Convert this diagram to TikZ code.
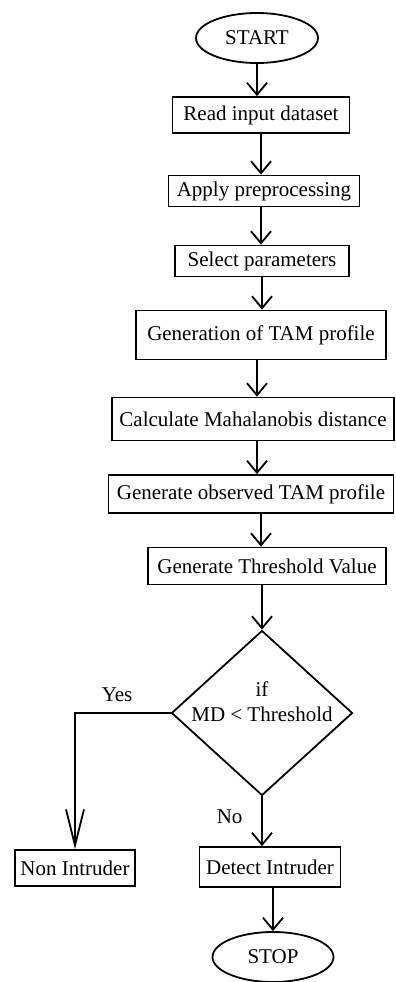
\documentclass[tikz,border=0pt]{standalone}
\usepackage{fontspec}
\setmainfont{Liberation Serif}
\usetikzlibrary{arrows.meta,shapes.geometric}

\begin{document}
\begin{tikzpicture}[x=0.5pt,y=-0.5pt,
  font=\fontsize{10.5}{12.6}\selectfont,
  box/.style={draw=black,line width=0.9pt,align=center,inner sep=2pt},
  terminal/.style={draw=black,line width=0.9pt,ellipse,inner sep=0pt,minimum width=61pt,minimum height=25pt},
  decision/.style={draw=black,line width=0.9pt,diamond,inner sep=0pt,minimum width=90.5pt,minimum height=82.5pt},
  arrow/.style={-{Straight Barb[length=6pt,width=10pt]},line width=0.9pt,draw=black},
  longarrow/.style={-{Straight Barb[length=18pt,width=9pt]},line width=0.9pt,draw=black}
]
\useasboundingbox (0,0) rectangle (396,982);

\node[terminal] (start) at (257,38) {START};
\node[box,minimum width=88.5pt,minimum height=18pt] (read) at (261,115) {Read input dataset};
\node[box,minimum width=95.5pt,minimum height=15.5pt] (apply) at (264,191) {Apply preprocessing};
\node[box,minimum width=87pt,minimum height=15.5pt] (select) at (262,261) {Select parameters};
\node[box,minimum width=125pt,minimum height=24.5pt] (gen) at (261,335) {Generation of TAM profile};
\node[box,minimum width=141pt,minimum height=21.5pt] (calc) at (253,419) {Calculate Mahalanobis distance};
\node[box,minimum width=142.5pt,minimum height=19pt] (obs) at (251,494) {Generate observed TAM profile};
\node[box,minimum width=119pt,minimum height=18.5pt] (thr) at (267,566) {Generate Threshold Value};
\node[decision] (test) at (262,713) {};
\node[align=center,inner sep=0pt] (testtxt) at (262,702) {if\\MD < Threshold};
\node[box,minimum width=60pt,minimum height=18pt] (non) at (75,868) {Non Intruder};
\node[box,minimum width=70.5pt,minimum height=20pt] (detect) at (270,867) {Detect Intruder};
\node[terminal,minimum width=60.5pt] (stop) at (273,957) {STOP};

\draw[arrow] (start.south) -- (start.south |- read.north);
\draw[arrow] (read.south) -- (read.south |- apply.north);
\draw[arrow] (apply.south -| read.south) -- (read.south |- select.north);
\draw[arrow] (select.south) -- (select.south |- gen.north);
\draw[arrow] (gen.south -| start.south) -- (start.south |- calc.north);
\draw[arrow] (calc.south -| start.south) -- (start.south |- obs.north);
\draw[arrow] (obs.south -| read.south) -- (read.south |- thr.north);
\draw[arrow] (thr.south -| test.north) -- (test.north);
\draw[longarrow] (test.west) -| node[pos=0.28,above=2pt] {Yes} (non.north);
\draw[arrow] (test.south) -- node[left=6pt,pos=0.4] {No} (test.south |- detect.north);
\draw[arrow] (detect.south -| stop.north) -- (stop.north);
\end{tikzpicture}
\end{document}
